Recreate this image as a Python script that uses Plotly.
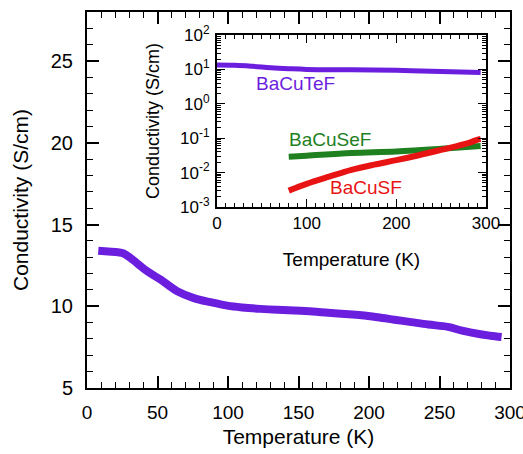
import math
import plotly.graph_objects as go

# Main panel: BaCuTeF conductivity vs temperature
temp_main = [8, 15, 22, 26, 30.6, 36, 42.5, 52, 64, 75.8, 87.7, 99.5, 110, 123, 135, 147,
             160, 171, 183, 194.6, 206, 218, 230, 242, 256, 266, 278, 286, 294]
cond_main = [13.4, 13.35, 13.3, 13.23, 12.97, 12.6, 12.15, 11.64, 10.92, 10.5, 10.25, 10.04,
             9.93, 9.84, 9.78, 9.74, 9.68, 9.6, 9.53, 9.45, 9.33, 9.18, 9.03, 8.88, 8.74,
             8.51, 8.3, 8.2, 8.12]

# Inset (log scale)
temp_te = [0, 20, 40, 60, 80, 100, 150, 200, 250, 294]
cond_te = [13.4, 13.2, 12.3, 11.2, 10.5, 10.0, 9.7, 9.4, 8.7, 8.1]

temp_se = [80, 100, 150, 200, 250, 294]
cond_se = [0.029, 0.031, 0.037, 0.041, 0.049, 0.059]

temp_s = [80, 100, 125, 150, 175, 200, 225, 250, 280, 290, 294]
cond_s = [0.003, 0.0047, 0.0076, 0.012, 0.017, 0.023, 0.032, 0.046, 0.072, 0.09, 0.095]

log_tickvals = [0.001, 0.01, 0.1, 1, 10, 100]
log_ticktext = ["10<sup>-3</sup>", "10<sup>-2</sup>", "10<sup>-1</sup>",
                "10<sup>0</sup>", "10<sup>1</sup>", "10<sup>2</sup>"]

# Label anchor values (data units)
label_names = ["BaCuTeF", "BaCuSeF", "BaCuSF"]
label_temp = [88, 126, 166]
label_cond = [3.8, 0.089, 0.0038]

PURPLE = "rgb(108,30,222)"
GREEN = "rgb(30,128,30)"
RED = "rgb(232,20,20)"
FONT = "Arial, Liberation Sans, Helvetica, sans-serif"

fig = go.Figure()
fig.add_trace(go.Scatter(x=temp_main, y=cond_main, mode="lines",
                         line=dict(color=PURPLE, width=8, shape="spline"),
                         xaxis="x", yaxis="y", showlegend=False))
fig.add_trace(go.Scatter(x=temp_te, y=cond_te, mode="lines",
                         line=dict(color=PURPLE, width=5, shape="spline"),
                         xaxis="x2", yaxis="y2", showlegend=False))
fig.add_trace(go.Scatter(x=temp_se, y=cond_se, mode="lines",
                         line=dict(color=GREEN, width=6, shape="spline"),
                         xaxis="x2", yaxis="y2", showlegend=False))
fig.add_trace(go.Scatter(x=temp_s, y=cond_s, mode="lines",
                         line=dict(color=RED, width=6, shape="spline"),
                         xaxis="x2", yaxis="y2", showlegend=False))

axis_common = dict(showline=True, linecolor="black", linewidth=2, mirror="ticks",
                   ticks="inside", tickcolor="black", showgrid=False, zeroline=False,
                   automargin=False, ticklabeloverflow="allow")

colors = [PURPLE, GREEN, RED]
annotations = [
    dict(text=n, x=t, y=math.log10(c), xref="x2", yref="y2", showarrow=False,
         font=dict(size=19, color=col, family=FONT))
    for n, t, c, col in zip(label_names, label_temp, label_cond, colors)
]

fig.update_layout(
    width=523, height=454,
    margin=dict(l=87, r=13, t=12, b=66),
    paper_bgcolor="white", plot_bgcolor="white",
    font=dict(family=FONT, color="black"),
    xaxis=dict(**axis_common, domain=[0, 1], range=[0, 300], dtick=50,
               ticklen=12, tickwidth=1.5, ticklabelstandoff=6,
               minor=dict(ticks="inside", dtick=10, ticklen=6, tickcolor="black", tickwidth=1),
               tickfont=dict(size=19),
               title=dict(text="Temperature (K)", font=dict(size=21), standoff=8)),
    yaxis=dict(**axis_common, domain=[0, 1], range=[5, 28], dtick=5,
               ticklen=12, tickwidth=1.5, ticklabelstandoff=8,
               minor=dict(ticks="inside", dtick=1, ticklen=6, tickcolor="black", tickwidth=1),
               tickfont=dict(size=20),
               title=dict(text="Conductivity (S/cm)", font=dict(size=21), standoff=16)),
    xaxis2=dict(**axis_common, anchor="y2", domain=[0.3073, 0.9433], range=[0, 300],
                dtick=100, ticklen=8, tickwidth=1.2,
                minor=dict(ticks="inside", dtick=10, ticklen=4, tickcolor="black", tickwidth=1),
                tickfont=dict(size=17),
                title=dict(text="Temperature (K)", font=dict(size=19), standoff=20)),
    yaxis2=dict(**axis_common, anchor="x2", domain=[0.4814, 0.9388], type="log",
                range=[-3, 2], tickvals=log_tickvals, ticktext=log_ticktext,
                ticklen=8, tickwidth=1.2, ticklabelstandoff=2,
                minor=dict(ticks="inside", dtick="D1", ticklen=4, tickcolor="black", tickwidth=1),
                tickfont=dict(size=17),
                title=dict(text="Conductivity (S/cm)", font=dict(size=18), standoff=16)),
    annotations=annotations,
)

fig.write_html("out.html", config={"displayModeBar": False},
               post_script="document.body.style.margin='0px';")
